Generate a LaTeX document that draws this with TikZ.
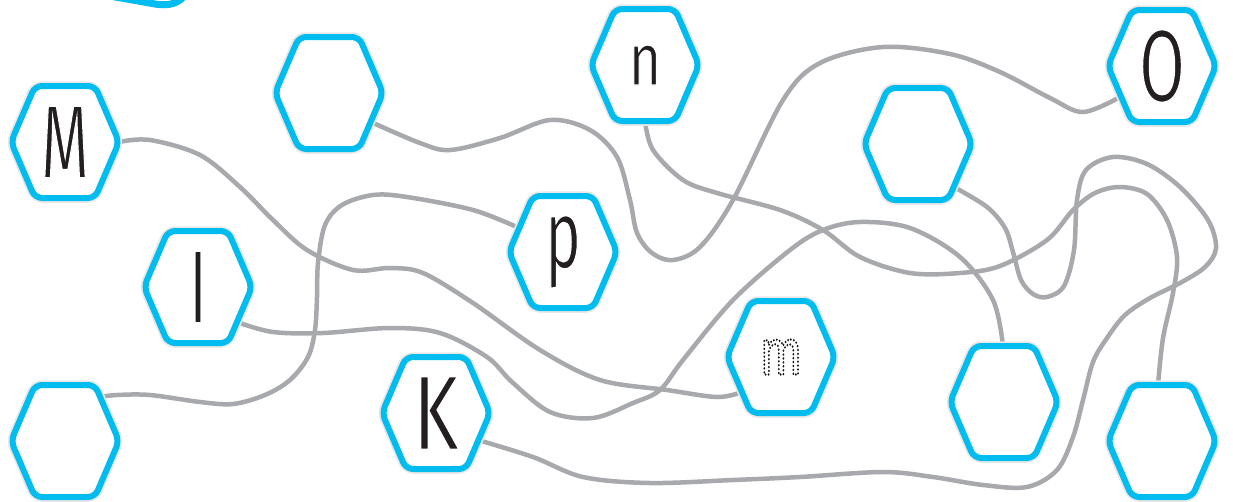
\documentclass[tikz,border=0pt]{standalone}
\usepackage{fontspec}
\usepackage{graphicx}
\usetikzlibrary{calc}
\newfontfamily\lfont{Fira Sans}
\newfontfamily\sfont{Liberation Sans}
\definecolor{hexblue}{RGB}{0,188,239}
\definecolor{wiregray}{RGB}{167,169,172}
\definecolor{inkc}{RGB}{35,31,32}
\pgfdeclarelayer{wires}
\pgfsetlayers{wires,main}
\tikzset{
  hexglow/.style={draw=black!9, line width=9.5pt, rounded corners=7pt},
  hexline/.style={draw=hexblue, fill=white, line width=6pt, rounded corners=7pt},
  lettr/.style={inner sep=0pt, text=inkc, font=\lfont\fontsize{60}{60}\selectfont},
  wire/.style={draw=wiregray, line width=4.5pt, line cap=round},
  wirepath/.style={smooth, tension=0.55},
}
\newcommand{\hexat}[4]{%
  \draw[hexglow, shift={(#2,#3)}] (0,-56) -- (30,-56) -- (54,0) -- (30,56) -- (-30,56) -- (-54,0) -- (-30,-56) -- cycle;
  \draw[hexline, shift={(#2,#3)}] (0,-56) -- (30,-56) -- (54,0) -- (30,56) -- (-30,56) -- (-54,0) -- (-30,-56) -- cycle;
  \node[lettr] (#1) at (#2,#3) {#4};
}
% thinner letters: fill, then a white stroke trims the outline
\newcommand{\thin}[1]{\special{pdf:literal direct 2 Tr 1.0 w 1 1 1 RG}#1}
\newcommand{\dotm}{\special{pdf:literal direct 1 Tr 2.4 w 1 J [0 3.6] 0 d 0.1 0.09 0.09 RG}m}
\begin{document}
\begin{tikzpicture}[x=1pt,y=-1pt]
\useasboundingbox (0,0) rectangle (1233,501);
% partial blue shape at top
\draw[hexblue, line width=7pt, line cap=round] (104,-5) -- (155,4) .. controls (170,6.5) and (179,3) .. (186,-6);
% hexagons
\hexat{hM}{65}{142}{\resizebox*{48pt}{72pt}{\thin{M}}}
\hexat{hB1}{329}{93}{}
\hexat{hn}{645}{65}{\resizebox*{33pt}{40pt}{\thin{n}}}
\hexat{hO}{1162}{66}{\resizebox*{46pt}{73pt}{\thin{O}}}
\hexat{hB2}{918}{144}{}
\hexat{hp}{563}{252}{\resizebox*{36pt}{73pt}{\thin{p}}}
\hexat{hl}{198}{287}{\resizebox*{12pt}{70pt}{\sfont l}}
\hexat{hB3}{65}{441}{}
\hexat{hK}{436}{413}{\resizebox*{46pt}{73pt}{\thin{K}}}
\hexat{hm}{781}{357}{\resizebox*{43pt}{35pt}{\dotm}}
\hexat{hB4}{1004}{402}{}
\hexat{hB5}{1162}{441}{}
% wires
\begin{pgfonlayer}{wires}
\fill[white] (0,0) rectangle (1233,501);
% M -> m
\draw[wire] plot[wirepath] coordinates {($(hM.center)+(54,0)$) (150,140) (200,155) (240,187) (273,220) (307,250) (353,270) (390,268) (423,273) (473,303) (540,350) (600,380) (667,390) (717,397) ($(hm.center)+(-39,35)$)};
% B1 -> O
\draw[wire] plot[wirepath] coordinates {($(hB1.center)+(42,29)$) (420,143) (450,150) (500,138) (550,120) (590,130) (617,157) (630,200) (637,233) (652,253) (673,260) (700,247) (733,200) (783,100) (820,63) (883,47) (950,54) (1000,72) (1050,98) (1083,112) ($(hO.center)+(-42,31)$)};
% n -> B5
\draw[wire] plot[wirepath] coordinates {($(hn.center)+(0,56)$) (653,150) (683,180) (717,193) (780,210) (823,230) (860,257) (910,273) (960,273) (1000,266) (1047,240) (1073,210) (1095,193) (1120,187) (1147,194) (1167,220) (1177,257) (1173,293) (1163,338) ($(hB5.center)+(-4,-56)$)};
% l -> B4
\draw[wire] plot[wirepath] coordinates {($(hl.center)+(39,35)$) (273,332) (323,333) (390,328) (440,333) (487,357) (512,382) (550,412) (593,418) (633,403) (660,390) (683,360) (733,300) (790,250) (823,230) (860,222) (910,228) (960,257) (993,300) ($(hB4.center)+(-1,-56)$)};
% B2 -> K
\draw[wire] plot[wirepath] coordinates {($(hB2.center)+(36,43)$) (987,207) (1005,228) (1013,252) (1021,280) (1033,294) (1047,297) (1064,286) (1074,250) (1077,200) (1086,170) (1113,157) (1147,164) (1180,187) (1208,220) (1216,248) (1205,267) (1180,283) (1150,298) (1125,315) (1107,338) (1093,362) (1083,400) (1073,437) (1057,470) (1027,487) (983,485) (933,477) (883,472) (800,477) (733,480) (650,483) (583,477) (533,457) ($(hK.center)+(42,27)$)};
% p -> B3
\draw[wire] plot[wirepath] coordinates {($(hp.center)+(-44,-24)$) (473,210) (407,197) (373,195) (342,205) (325,225) (318,263) (317,297) (315,330) (308,357) (290,380) (265,395) (233,404) (200,402) (150,395) (117,395) ($(hB3.center)+(35,-44)$)};
\end{pgfonlayer}
\end{tikzpicture}
\end{document}
